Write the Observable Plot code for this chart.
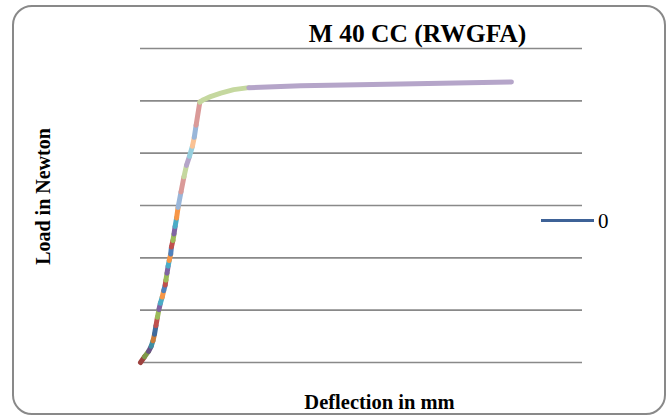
<!DOCTYPE html>
<html>
<head>
<meta charset="utf-8">
<script src="https://cdn.jsdelivr.net/npm/d3@7"></script>
<script src="https://cdn.jsdelivr.net/npm/@observablehq/plot@0.6"></script>
<style>
  html, body { margin: 0; padding: 0; background: #fff; }
  #chart { position: relative; width: 669px; height: 417px; overflow: hidden; font-family: "Liberation Serif", "Times New Roman", serif; }
  #chart svg { position: absolute; left: 0; top: 0; }
  .frame { position: absolute; left: 12px; top: 4.5px; width: 654px; height: 410px; box-sizing: border-box; border: 2px solid #898989; border-radius: 20px; pointer-events: none; }
  .legend-line { position: absolute; left: 541px; top: 219.2px; width: 53px; height: 3px; background: #3e6297; }
  .legend-text { position: absolute; left: 598px; top: 211px; font-size: 21px; line-height: 21px; color: #000; }
</style>
</head>
<body>
<div id="chart"></div>
<script>
// Load–deflection readings for the M 40 CC (RWGFA) specimen
const deflection = [0, 0.11, 0.22, 0.29, 0.34, 0.38, 0.42, 0.46, 0.50, 0.54, 0.59, 0.63, 0.67, 0.69, 0.72, 0.75, 0.78, 0.82, 0.84, 0.88, 0.91, 0.94, 0.98, 1.02, 1.10, 1.18, 1.25, 1.33, 1.41, 1.46, 1.51, 1.61, 1.71, 1.90, 2.18, 2.53, 2.94, 4.35, 7.07, 10.07];
const load = [0, 550, 1070, 1550, 2080, 2700, 3520, 4330, 5050, 5670, 6250, 6870, 7400, 7870, 8540, 9210, 9740, 10360, 11030, 11660, 12280, 13000, 13810, 14820, 16300, 17740, 18840, 19700, 20660, 21520, 22670, 24880, 25110, 25400, 25740, 26070, 26260, 26430, 26600, 26810];
// series number of the segment that ends at each reading
const series = [1, 1, 2, 3, 4, 5, 6, 7, 8, 9, 10, 11, 12, 13, 14, 15, 16, 17, 18, 19, 20, 21, 22, 23, 24, 25, 26, 27, 28, 29, 30, 31, 32, 32, 32, 32, 32, 33, 33, 33];
const loadGrid = [0, 5000, 10000, 15000, 20000, 25000, 30000];
const legendLabel = "0";
const title = "M 40 CC (RWGFA)";
const xLabel = "Deflection in mm";
const yLabel = "Load in Newton";

const palette = ["#4f81bd", "#c0504d", "#9bbb59", "#8064a2", "#4bacc6", "#f79646"];
function seriesColor(k) {
  const base = palette[k % 6];
  if (k <= 6) return d3.interpolateRgb(base, "#000")(0.18);
  if (k >= 24) return d3.interpolateRgb(base, "#fff")(0.42);
  return base;
}

const rows = deflection.map((x, i) => ({x, y: load[i], s: series[i]}));
const ids = Array.from(new Set(series));
const lineMarks = ids.map((k) => {
  const pts = rows.filter((r) => r.s === k);
  const prev = rows.filter((r) => r.s === k - 1);
  const seg = prev.length ? [prev[prev.length - 1], ...pts] : pts;
  return Plot.line(seg, {x: "x", y: "y", stroke: seriesColor(k), strokeWidth: 5, strokeLinecap: "round", strokeLinejoin: "round"});
});

const font = "'Liberation Serif', 'Times New Roman', serif";
const chart = Plot.plot({
  width: 669,
  height: 417,
  marginLeft: 140,
  marginRight: 87,
  marginTop: 48,
  marginBottom: 55,
  style: {fontFamily: font, background: "transparent", overflow: "visible"},
  x: {domain: [0, 12], axis: null},
  y: {domain: [0, 30000], axis: null},
  marks: [
    Plot.ruleY(loadGrid, {stroke: "#898989", strokeWidth: 1.6}),
    ...lineMarks,
    Plot.text([title], {text: (d) => d, frameAnchor: "top", dx: 56, dy: -15, textAnchor: "middle", lineAnchor: "middle", fontSize: 25.5, fontWeight: "bold", fill: "#000"}),
    Plot.text([xLabel], {text: (d) => d, frameAnchor: "bottom", dx: 18, dy: 39.5, textAnchor: "middle", lineAnchor: "middle", fontSize: 20.5, fontWeight: "bold", fill: "#000"}),
    Plot.text([yLabel], {text: (d) => d, frameAnchor: "left", rotate: -90, dx: -97, dy: -9, textAnchor: "middle", lineAnchor: "middle", fontSize: 20, fontWeight: "bold", fill: "#000"})
  ]
});

const root = document.getElementById("chart");
root.appendChild(chart);
const legendLine = document.createElement("div");
legendLine.className = "legend-line";
root.appendChild(legendLine);
const legendText = document.createElement("div");
legendText.className = "legend-text";
legendText.textContent = legendLabel;
root.appendChild(legendText);
const frame = document.createElement("div");
frame.className = "frame";
root.appendChild(frame);
</script>
</body>
</html>
